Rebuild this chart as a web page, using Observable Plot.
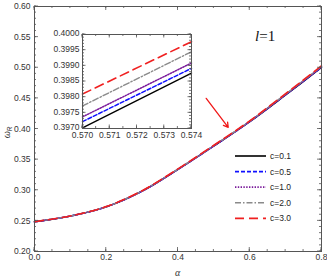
<!DOCTYPE html>
<html><head><meta charset="utf-8">
<script src="https://cdn.jsdelivr.net/npm/d3@7"></script>
<script src="https://cdn.jsdelivr.net/npm/@observablehq/plot@0.6"></script>
<style>
body{margin:0;background:#fff}
#wrap{position:relative;width:327px;height:277px;overflow:hidden}
#inset{position:absolute;left:52px;top:30px}
</style>
</head><body><div id="wrap"><div id="main"></div><div id="inset"></div></div>
<script>
// ---- data ----
const alpha = [0, 0.1, 0.2, 0.3, 0.4, 0.5, 0.6, 0.7, 0.8];
const seriesLabels = ["c=0.1", "c=0.5", "c=1.0", "c=2.0", "c=3.0"];
const omegaC01 = [0.2485, 0.2578, 0.2728, 0.2985, 0.3340, 0.3722, 0.4118, 0.4555, 0.5003];
const omegaC05 = [0.2485, 0.2578, 0.2729, 0.2986, 0.3341, 0.3724, 0.4121, 0.4559, 0.5008];
const omegaC10 = [0.2485, 0.2579, 0.2730, 0.2987, 0.3342, 0.3726, 0.4123, 0.4562, 0.5012];
const omegaC20 = [0.2486, 0.2580, 0.2731, 0.2990, 0.3346, 0.3730, 0.4128, 0.4569, 0.5020];
const omegaC30 = [0.2487, 0.2581, 0.2733, 0.2993, 0.3350, 0.3735, 0.4134, 0.4577, 0.5030];

const insetAlpha = [0.570, 0.574];
const insetC01 = [0.39702, 0.39877];
const insetC05 = [0.39722, 0.39892];
const insetC10 = [0.39737, 0.39909];
const insetC20 = [0.39772, 0.39945];
const insetC30 = [0.39810, 0.39977];

const xTicksMain = [0, 0.2, 0.4, 0.6, 0.8];
const yTicksMain = [0.20, 0.25, 0.30, 0.35, 0.40, 0.45, 0.50, 0.55, 0.60];
const xTicksInset = [0.570, 0.571, 0.572, 0.573, 0.574];
const yTicksInset = [0.3970, 0.3975, 0.3980, 0.3985, 0.3990, 0.3995, 0.4000];

const arrowFrom = [0.4786, 0.4500];
const arrowTo = [0.5400, 0.4027];
const lLabel = "l";
const lValue = "=1";

// ---- styles ----
const styles = [
  {stroke: "#000000", dash: null, w: 1.4},
  {stroke: "#1010ff", dash: "4,2", w: 1.5},
  {stroke: "#7a1a9a", dash: "1.4,1.4", w: 1.5},
  {stroke: "#8a8a8a", dash: "6,2,1.5,2", w: 1.4},
  {stroke: "#f02020", dash: "9,5", w: 1.6}
];
const mainSeries = [omegaC01, omegaC05, omegaC10, omegaC20, omegaC30];
const insetSeries = [insetC01, insetC05, insetC10, insetC20, insetC30];
const font = "'Liberation Sans', Arial, sans-serif";
const frameColor = "#555";

function rows(xs, ys) { return xs.map((x, i) => ({x, y: ys[i]})); }

function lineMarks(xArr, seriesArr, curve) {
  return seriesArr.map((vals, i) => Plot.line(rows(xArr, vals), {
    x: "x", y: "y", stroke: styles[i].stroke, strokeWidth: styles[i].w,
    strokeDasharray: styles[i].dash || undefined, curve
  }));
}

function range(a, b, step) {
  const out = [];
  const n = Math.round((b - a) / step);
  for (let i = 0; i <= n; i++) out.push(+(a + i * step).toFixed(6));
  return out;
}

function drawTicks(svg, plot, xMaj, xMin, yMaj, yMin, majLen, minLen) {
  const xs = plot.scale("x"), ys = plot.scale("y");
  const [xl, xr] = xs.range, [yb, yt] = ys.range;
  const g = d3.select(svg).append("g").attr("stroke", frameColor).attr("stroke-width", 0.8);
  const addX = (vals, len) => vals.forEach(v => {
    const px = xs.apply(v);
    g.append("line").attr("x1", px).attr("x2", px).attr("y1", yb).attr("y2", yb - len);
    g.append("line").attr("x1", px).attr("x2", px).attr("y1", yt).attr("y2", yt + len);
  });
  const addY = (vals, len) => vals.forEach(v => {
    const py = ys.apply(v);
    g.append("line").attr("y1", py).attr("y2", py).attr("x1", xl).attr("x2", xl + len);
    g.append("line").attr("y1", py).attr("y2", py).attr("x1", xr).attr("x2", xr - len);
  });
  addX(xMin, minLen); addX(xMaj, majLen);
  addY(yMin, minLen); addY(yMaj, majLen);
}

// ---- main plot ----
const main = Plot.plot({
  width: 327, height: 277,
  marginLeft: 34, marginRight: 6, marginTop: 6, marginBottom: 26,
  style: {fontFamily: font, fontSize: "8.5px", color: "#333", background: "white"},
  x: {domain: [0, 0.8]},
  y: {domain: [0.2, 0.6]},
  marks: [
    ...lineMarks(alpha, mainSeries, "catmull-rom"),
    Plot.arrow([{x1: arrowFrom[0], y1: arrowFrom[1], x2: arrowTo[0], y2: arrowTo[1]}],
      {x1: "x1", y1: "y1", x2: "x2", y2: "y2", stroke: "#f01818", strokeWidth: 1.3, headLength: 6, bend: 0}),
    Plot.frame({stroke: frameColor, strokeWidth: 1}),
    Plot.axisX({ticks: xTicksMain, tickSize: 0, tickPadding: 2, tickFormat: d3.format(".1f"), label: null}),
    Plot.axisY({ticks: yTicksMain, tickSize: 0, tickPadding: 4, tickFormat: d3.format(".2f"), label: null})
  ]
});
document.getElementById("main").appendChild(main);
drawTicks(main, main, xTicksMain, range(0, 0.8, 0.05), yTicksMain, range(0.2, 0.6, 0.01), 4, 2);

const ms = d3.select(main);
// axis titles
ms.append("text").attr("x", main.scale("x").apply(0.4)).attr("y", 275.5)
  .attr("text-anchor", "middle").attr("font-family", "'Liberation Serif', serif")
  .attr("font-style", "italic").attr("font-size", 10).attr("fill", "#333").text("α");
const ay = ms.append("text").attr("transform", "translate(9.5,132.5) rotate(-90)")
  .attr("text-anchor", "middle").attr("font-family", font).attr("font-size", 9).attr("fill", "#333");
ay.append("tspan").attr("font-style", "italic").text("ω");
ay.append("tspan").attr("font-style", "italic").attr("font-size", 6.5).attr("dy", 2).text("R");

// l=1 label
const lt = ms.append("text").attr("x", 255).attr("y", 41).attr("text-anchor", "start")
  .attr("font-family", "'Liberation Serif', 'DejaVu Serif', serif").attr("font-size", 15).attr("fill", "#111");
lt.append("tspan").attr("font-style", "italic").text(lLabel);
lt.append("tspan").text(lValue);

// legend
seriesLabels.forEach((lab, i) => {
  const y = 156 + i * 15.6;
  ms.append("line").attr("x1", 235).attr("x2", 266).attr("y1", y).attr("y2", y)
    .attr("stroke", styles[i].stroke).attr("stroke-width", styles[i].w + 0.2)
    .attr("stroke-dasharray", styles[i].dash || null);
  ms.append("text").attr("x", 270).attr("y", y).attr("dy", "0.35em").attr("text-anchor", "start")
    .attr("font-family", font).attr("font-size", 8.5).attr("fill", "#222").text(lab);
});

// ---- inset plot ----
const inset = Plot.plot({
  width: 153, height: 110,
  marginLeft: 30, marginRight: 14, marginTop: 4, marginBottom: 12,
  style: {fontFamily: font, fontSize: "8.5px", color: "#333", background: "transparent", overflow: "visible"},
  x: {domain: [0.570, 0.574]},
  y: {domain: [0.3970, 0.4000]},
  marks: [
    Plot.frame({fill: "white"}),
    ...lineMarks(insetAlpha, insetSeries, "linear"),
    Plot.frame({stroke: frameColor, strokeWidth: 1}),
    Plot.axisX({ticks: xTicksInset, tickSize: 0, tickPadding: 3, tickFormat: d3.format(".3f"), label: null}),
    Plot.axisY({ticks: yTicksInset, tickSize: 0, tickPadding: 3, dy: -1, tickFormat: d3.format(".4f"), label: null})
  ]
});
document.getElementById("inset").appendChild(inset);
drawTicks(inset, inset, xTicksInset, range(0.570, 0.574, 0.0005), yTicksInset, range(0.3970, 0.4000, 0.0001), 3.5, 2);
</script></body></html>
